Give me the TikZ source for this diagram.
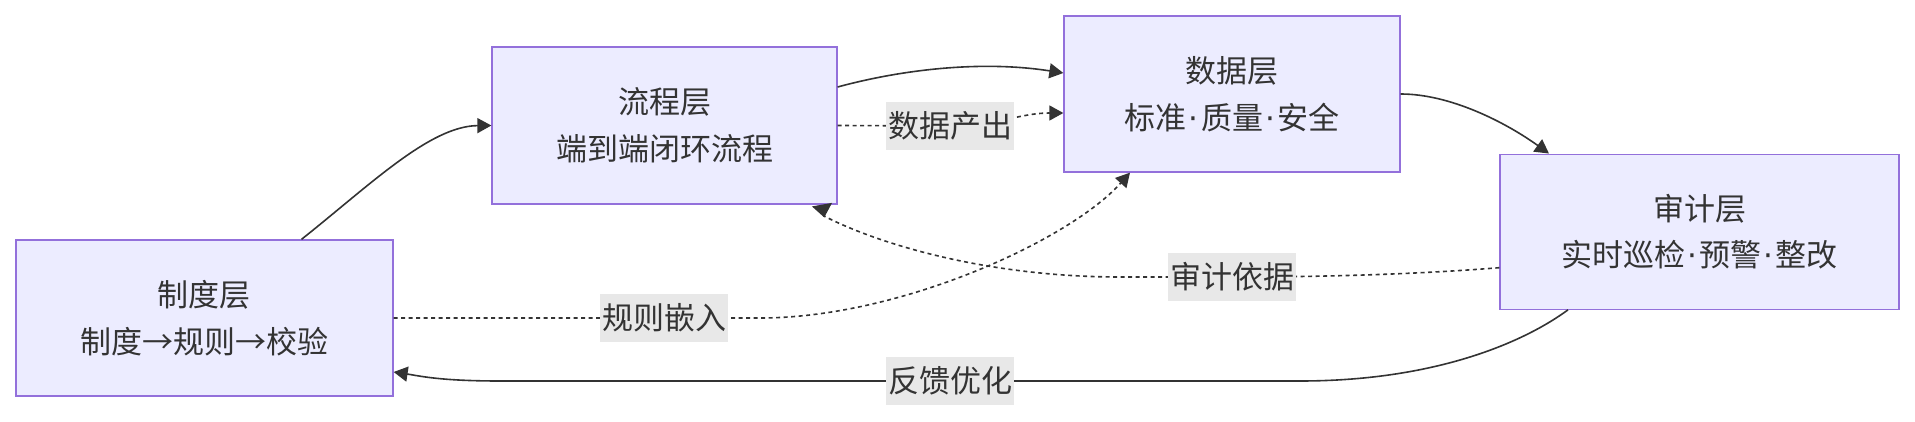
\documentclass[tikz,border=0pt]{standalone}
\usepackage{fontspec}
\setmainfont{Noto Sans CJK SC}
\newfontfamily\dotfont{DejaVu Sans}
\newcommand\mdot{\kern2.3pt{\dotfont ·}\kern2.3pt}
\usetikzlibrary{arrows.meta}
\definecolor{layerfill}{HTML}{ECECFF}
\definecolor{layerline}{HTML}{9370DB}
\definecolor{tagfill}{HTML}{E8E8E8}
\definecolor{ink}{HTML}{333333}
\begin{document}
\begin{tikzpicture}[x=1pt, y=-1pt,
    layer/.style={draw=layerline, fill=layerfill, line width=1.3pt, text=ink,
      align=center, font=\fontsize{31}{46.5}\selectfont},
    tag/.style={fill=tagfill, text=ink, inner xsep=2pt, inner ysep=0pt,
      minimum height=48pt, font=\fontsize{31}{46.5}\selectfont},
    flow/.style={draw=ink, line width=1.6pt, -{Triangle[length=14pt, width=15pt]}},
    dotflow/.style={flow, dash pattern=on 4pt off 3.5pt},
    dotback/.style={draw=ink, line width=1.6pt, dash pattern=on 4pt off 3.5pt,
      -{Triangle[reversed, length=13pt, width=20pt]}}]
    \useasboundingbox (0,0) rectangle (1915,422);

    % Layers
    \node[layer, minimum width=377pt, minimum height=156pt] (zhidu) at (204.5,318) {制度层\\制度→规则→校验};
    \node[layer, minimum width=345pt, minimum height=157pt] (liucheng) at (664.5,125.5) {流程层\\端到端闭环流程};
    \node[layer, minimum width=336pt, minimum height=156pt] (shuju) at (1232,94) {数据层\\标准\mdot 质量\mdot 安全};
    \node[layer, minimum width=399pt, minimum height=155pt] (shenji) at (1699.5,231.7) {审计层\\实时巡检\mdot 预警\mdot 整改};

    % Main flow
    \draw[flow] ([xshift=97pt]zhidu.north) .. controls (370,185) and (430,126) .. (liucheng.west);
    \draw[flow] ([yshift=38.5pt]liucheng.east) .. controls (900,70) and (980,60) .. ([yshift=21pt]shuju.west);
    \draw[flow] (shuju.east) .. controls (1450,94) and (1505,122) .. ([xshift=-150.5pt]shenji.north);

    % Feedback
    \draw[flow] ([xshift=-131.5pt]shenji.south) .. controls (1520,345) and (1430,381) .. (1300,381)
      -- (950,381) node[tag] {反馈优化} -- (500,381)
      .. controls (440,381) and (420,376) .. ([yshift=-54pt]zhidu.east);

    % Dotted links
    \draw[dotflow] (liucheng.east) -- (950,126) node[tag] {数据产出}
      .. controls (1000,125) and (1020,113) .. ([yshift=-19pt]shuju.west);
    \draw[dotflow] (zhidu.east) -- (664,318) node[tag] {规则嵌入} -- (760,318)
      .. controls (900,318) and (1070,240) .. ([xshift=-102pt]shuju.south);
    \draw[dotback] ([yshift=-36pt]shenji.west) .. controls (1420,274) and (1330,277) .. (1232,277)
      node[tag] {审计依据} -- (1120,277)
      .. controls (990,277) and (880,245) .. (824,216) -- ([xshift=157.5pt]liucheng.south);
\end{tikzpicture}
\end{document}
